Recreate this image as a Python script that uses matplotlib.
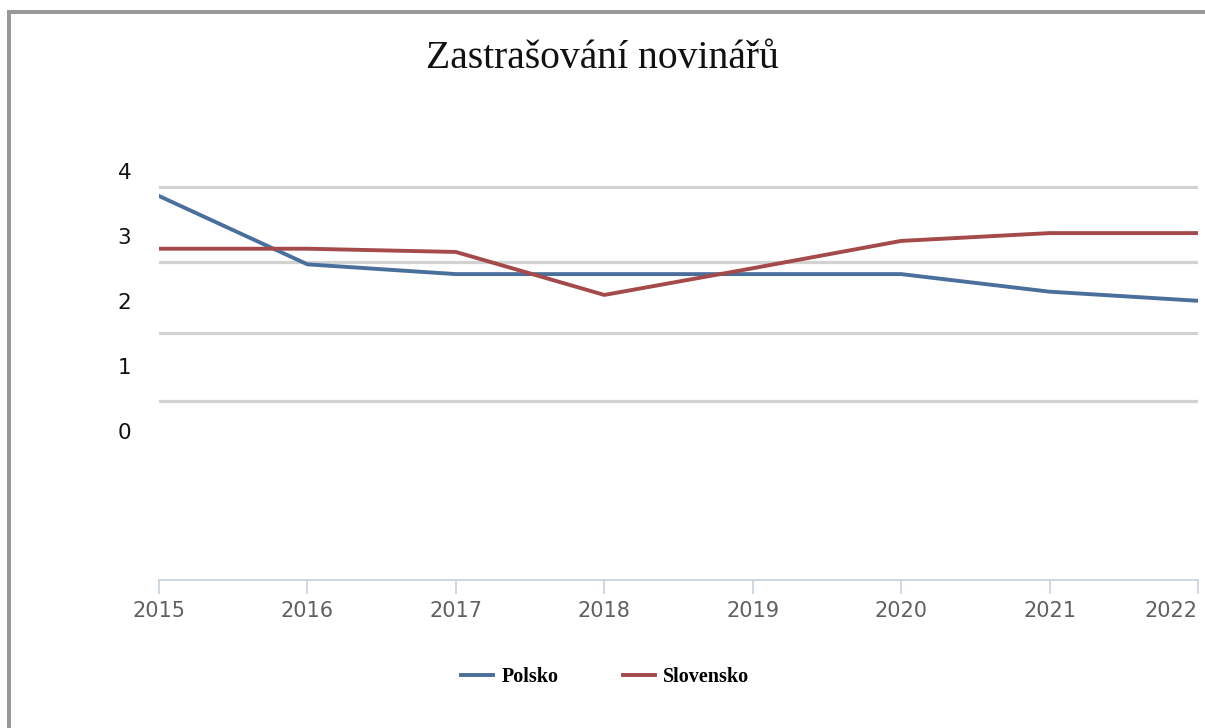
import matplotlib
matplotlib.use("Agg")
import matplotlib.pyplot as plt
from matplotlib.patches import Rectangle

# ---- data ----
years = [2015, 2016, 2017, 2018, 2019, 2020, 2021, 2022]
polsko = [3.61, 2.56, 2.41, 2.41, 2.41, 2.41, 2.14, 2.00]
slovensko = [2.80, 2.80, 2.75, 2.09, 2.50, 2.92, 3.04, 3.04]
grid_levels = [3.75, 2.60, 1.51, 0.46]
ytick_vals = [0, 1, 2, 3, 4]
ytick_labels = ["0", "1", "2", "3", "4"]
title = "Zastrašování novinářů"
series_names = ["Polsko", "Slovensko"]

W, H = 1205, 728
fig = plt.figure(figsize=(W / 100, H / 100), dpi=100)
fig.patch.set_facecolor("white")

# frame on top and left edges
fig.add_artist(Rectangle((7 / W, 1 - 14 / H), (W - 7) / W, 4 / H,
                         transform=fig.transFigure, color="#999999", lw=0))
fig.add_artist(Rectangle((7 / W, 0), 4 / W, 1 - 10 / H,
                         transform=fig.transFigure, color="#999999", lw=0))

x0, x1 = 159, 1198
y_top, y_bot = 140, 580
ax = fig.add_axes([x0 / W, 1 - y_bot / H, (x1 - x0) / W, (y_bot - y_top) / H])
ax.set_xlim(years[0], years[-1])
ax.set_ylim((431 - y_bot) / 65.1, (431 - y_top) / 65.1)

for g in grid_levels:
    ax.axhline(g, color="#d2d2d2", lw=2.3, zorder=1)

blue = "#4a6f9c"
red = "#a44a4a"
ax.plot(years, polsko, color=blue, lw=2.8, label=series_names[0], zorder=3,
        solid_joinstyle="round")
ax.plot(years, slovensko, color=red, lw=2.8, label=series_names[1], zorder=3,
        solid_joinstyle="round")

for s in ["top", "right", "left"]:
    ax.spines[s].set_visible(False)
ax.spines["bottom"].set_color("#c8d2de")
ax.spines["bottom"].set_linewidth(1.3)

ax.set_xticks(years)
ax.set_xticklabels([str(y) for y in years])
ax.tick_params(axis="x", length=10, width=1.2, color="#c8d2de", pad=5,
               labelsize=15, labelcolor="#606060")
xt = ax.get_xticklabels()
xt[-1].set_horizontalalignment("right")
ax.set_yticks(ytick_vals)
ax.set_yticklabels(ytick_labels)
ax.tick_params(axis="y", length=0, pad=20, labelsize=15.5, labelcolor="#111111")

fig.text(602 / W, 1 - 59 / H, title, ha="center", va="center",
         fontsize=28.5, family="Liberation Serif", color="#111111")

leg = fig.legend(loc="center", bbox_to_anchor=(605 / W, 1 - 677 / H), ncol=2,
                 frameon=False, handlelength=1.6, handletextpad=0.4,
                 columnspacing=3.2,
                 prop={"family": "Liberation Serif", "weight": "bold", "size": 14.5})

fig.savefig("out.png", dpi=100, facecolor="white")
